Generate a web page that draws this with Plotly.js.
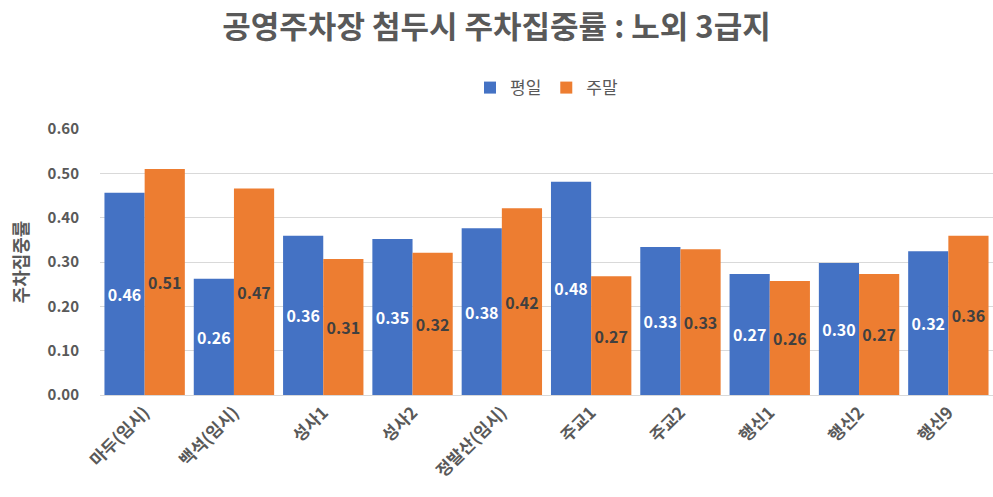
<!DOCTYPE html>
<html><head><meta charset="utf-8">
<script src="https://cdn.plot.ly/plotly-3.0.1.min.js"></script>
<style>html,body{margin:0;padding:0;background:#fff}#c{width:993px;height:497px}</style>
</head><body><div id="c"></div>
<script>
const categories = ['마두(임시)','백석(임시)','성사1','성사2','정발산(임시)','주교1','주교2','행신1','행신2','행신9'];
const weekday = [0.456, 0.262, 0.359, 0.352, 0.376, 0.481, 0.334, 0.273, 0.298, 0.324];
const weekend = [0.510, 0.466, 0.307, 0.321, 0.421, 0.268, 0.329, 0.257, 0.273, 0.359];
const seriesNames = ['평일','주말'];
const yTicks = [0, 0.1, 0.2, 0.3, 0.4, 0.5, 0.6];

const FONT = '"Noto Sans CJK KR", "Noto Sans", sans-serif';
const GRAY = '#595959';

const traces = [
  {type:'bar', name:seriesNames[0], x:categories, y:weekday,
   marker:{color:'#4472C4'}, texttemplate:'%{y:.2f}', textposition:'inside',
   insidetextanchor:'middle', textangle:0, constraintext:'none',
   textfont:{family:FONT, size:16, color:'#ffffff', weight:'bold'}, hoverinfo:'skip'},
  {type:'bar', name:seriesNames[1], x:categories, y:weekend,
   marker:{color:'#ED7D31'}, texttemplate:'%{y:.2f}', textposition:'inside',
   insidetextanchor:'middle', textangle:0, constraintext:'none',
   textfont:{family:FONT, size:16, color:'#404040', weight:'bold'}, hoverinfo:'skip'}
];

const layout = {
  width:993, height:497,
  margin:{l:100, r:0, t:129, b:102},
  paper_bgcolor:'#fff', plot_bgcolor:'#fff',
  font:{family:FONT, color:GRAY},
  title:{text:'공영주차장 첨두시 주차집중률 : 노외 3급지', x:0.5, xanchor:'center', y:0.945, yanchor:'middle',
         font:{family:FONT, size:31, color:GRAY, weight:'bold'}},
  barmode:'group', bargap:0.1, bargroupgap:0,
  showlegend:true,
  legend:{orientation:'h', x:0.5, xanchor:'center', y:1.154, yanchor:'middle',
          font:{family:FONT, size:17, color:GRAY}, traceorder:'normal', itemwidth:30},
  xaxis:{type:'category', tickangle:-45, tickfont:{family:FONT, size:17, color:GRAY, weight:'bold'},
         showline:true, linecolor:'#d9d9d9', linewidth:1, ticks:'', showgrid:false, zeroline:false},
  yaxis:{range:[0,0.6], tickvals:yTicks, tickformat:'.2f', showgrid:true, gridcolor:'#d9d9d9',
         zeroline:false, showline:false, ticks:'', ticklen:0, ticklabelstandoff:20,
         tickfont:{family:FONT, size:15, color:GRAY, weight:'bold'},
         title:{text:'주차집중률', standoff:14, font:{family:FONT, size:18, color:GRAY, weight:'bold'}}}
};

Plotly.newPlot('c', traces, layout, {displayModeBar:false, staticPlot:true});
</script>
</body></html>
